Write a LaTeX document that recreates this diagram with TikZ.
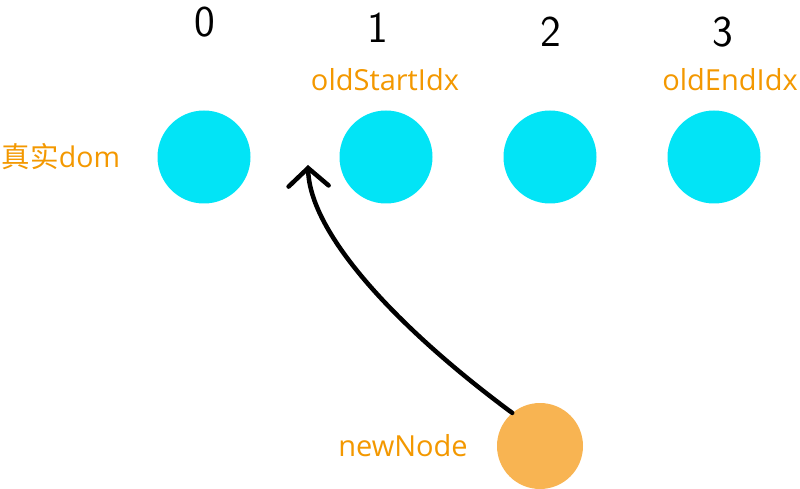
\documentclass[tikz,border=0pt]{standalone}
\usepackage{fontspec}
\setmainfont{Open Sans}
\newfontfamily\cjkfont{Noto Sans CJK SC}
\usetikzlibrary{positioning,arrows.meta}

\definecolor{domcyan}{HTML}{02E4F6}
\definecolor{neworange}{HTML}{F8B452}
\definecolor{labelorange}{HTML}{F39800}

\tikzset{
  domball/.style={circle,fill=domcyan,inner sep=0pt,minimum size=93pt},
  newball/.style={circle,fill=neworange,inner sep=0pt,minimum size=86pt},
  idxlabel/.style={text=labelorange,font=\fontsize{29}{32}\selectfont,inner sep=0pt},
  digit/.style={font=\fontsize{44}{48}\selectfont\sffamily,inner sep=0pt},
}

\begin{document}
\begin{tikzpicture}[x=1pt,y=-1pt]
\useasboundingbox (0,0) rectangle (800,489);
\node[domball] (dom0) at (204,157) {};
\node[domball] (dom1) at (386,157) {};
\node[domball] (dom2) at (550,157) {};
\node[domball] (dom3) at (714,157) {};
\node[newball] (newnode) at (540,446) {};
\node[digit] (d0) at (205,22) {0};
\node[digit] (d1) at (378,28) {1};
\node[digit] (d2) at (551,32) {2};
\node[digit] (d3) at (723,32) {3};
\node[idxlabel] (oldstart) at (385,80) {oldStartIdx};
\node[idxlabel] (oldend) at (730,80) {oldEndIdx};
\node[idxlabel,font=\fontsize{28.5}{31}\selectfont] (real) at (61,157) {{\cjkfont 真实}dom};
\node[idxlabel] (newlabel) at (403,446) {newNode};
\coordinate (tip) at (308,165);
\draw[line width=4.5pt,line cap=round,-{Straight Barb[length=18pt,width=40pt,line cap=round]}]
  (newnode.130) .. controls (400,330) and (310,235) .. (tip);
\end{tikzpicture}
\end{document}
